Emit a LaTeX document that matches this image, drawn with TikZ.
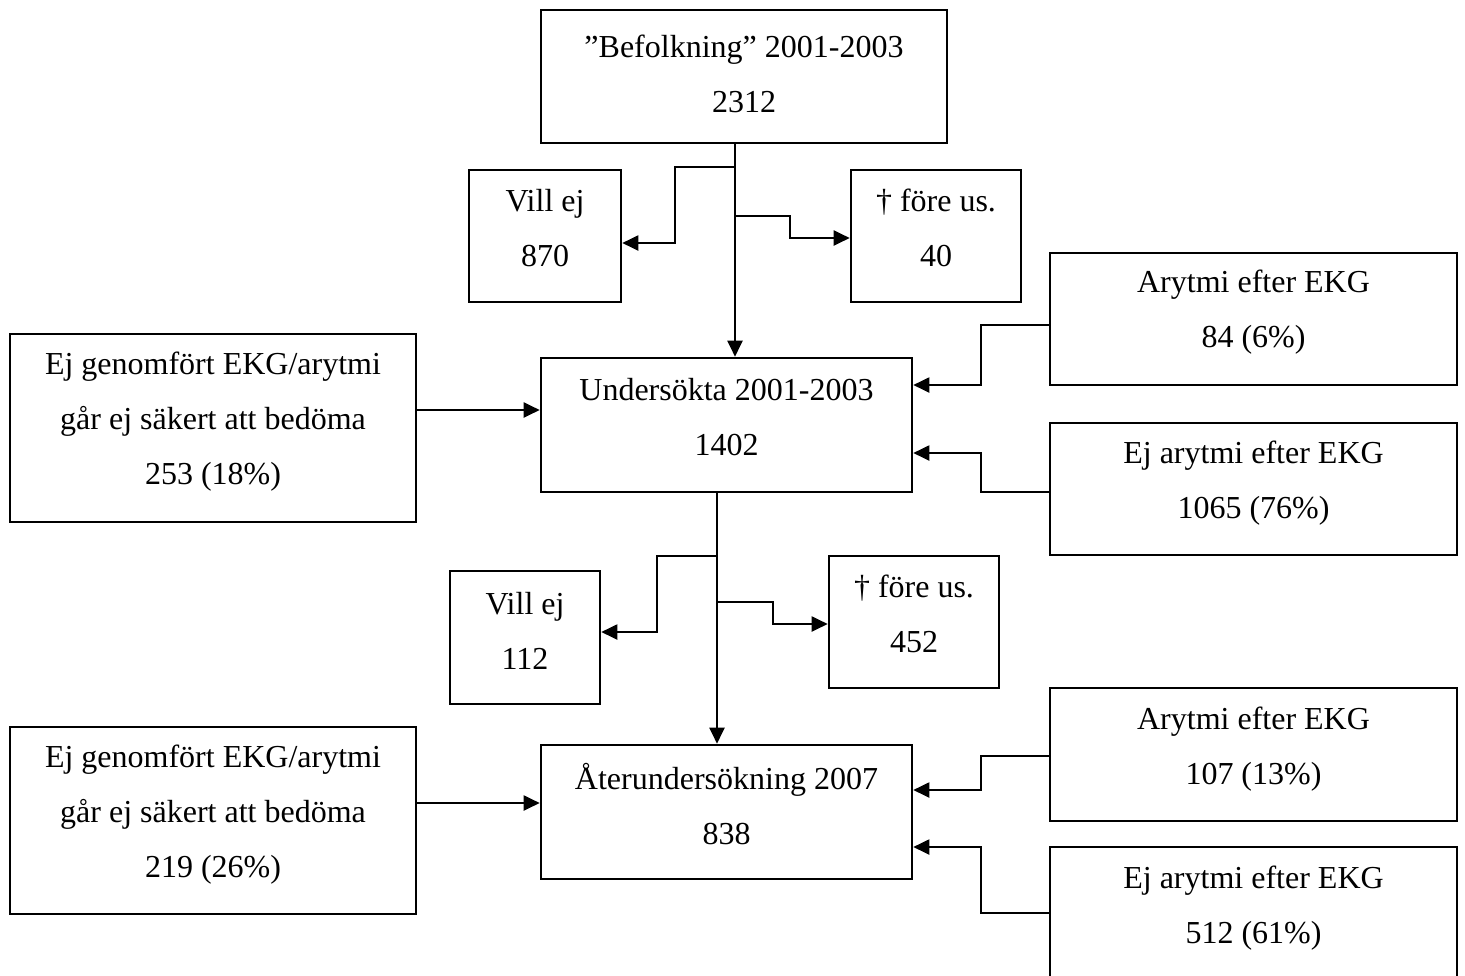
\documentclass[tikz,border=0pt]{standalone}
\usepackage{fontspec}
\setmainfont{Liberation Serif}
\usetikzlibrary{arrows.meta,calc}
\begin{document}
\begin{tikzpicture}[x=1pt,y=-1pt,
  boxnode/.style={draw=black, line width=2.6pt, inner sep=0pt},
  txt/.style={align=center, font=\fontsize{32}{55}\selectfont, inner sep=0pt},
  conn/.style={line width=2pt},
  arr/.style={line width=2pt, -{Triangle[length=16pt,width=15pt]}}]
\useasboundingbox (0,0) rectangle (1465,975);
\clip (0,0) rectangle (1465,975);

% boxes
\node[boxnode, minimum width=406pt, minimum height=133pt] (top) at (744,76.5) {};
\node[txt] (topT) at (744,73.5) {”Befolkning” 2001-2003\\2312};

\node[boxnode, minimum width=152pt, minimum height=132pt] (villej1) at (545,236) {};
\node[txt] (villej1T) at (545,228) {Vill ej\\870};

\node[boxnode, minimum width=170pt, minimum height=132pt] (dead1) at (936,236) {};
\node[txt] (dead1T) at (936,228) {† före us.\\40};

\node[boxnode, minimum width=371pt, minimum height=134pt] (und) at (726.5,425) {};
\node[txt] (undT) at (726.5,417.5) {Undersökta 2001-2003\\1402};

\node[boxnode, minimum width=406pt, minimum height=188pt] (left1) at (213,428) {};
\node[txt] (left1T) at (213,422) {Ej genomfört EKG/arytmi\\går ej säkert att bedöma\\253 (18\%)};

\node[boxnode, minimum width=407pt, minimum height=132pt] (ary1) at (1253.5,319) {};
\node[txt] (ary1T) at (1253.5,312) {Arytmi efter EKG\\84 (6\%)};

\node[boxnode, minimum width=407pt, minimum height=132pt] (eja1) at (1253.5,489) {};
\node[txt] (eja1T) at (1253.5,483) {Ej arytmi efter EKG\\1065 (76\%)};

\node[boxnode, minimum width=150pt, minimum height=133pt] (villej2) at (525,637.5) {};
\node[txt] (villej2T) at (525,631) {Vill ej\\112};

\node[boxnode, minimum width=170pt, minimum height=132pt] (dead2) at (914,622) {};
\node[txt] (dead2T) at (914,614) {† före us.\\452};

\node[boxnode, minimum width=371pt, minimum height=134pt] (ater) at (726.5,812) {};
\node[txt] (aterT) at (726.5,804) {Återundersökning 2007\\838};

\node[boxnode, minimum width=406pt, minimum height=187pt] (left2) at (213,820.5) {};
\node[txt] (left2T) at (213,815) {Ej genomfört EKG/arytmi\\går ej säkert att bedöma\\219 (26\%)};

\node[boxnode, minimum width=407pt, minimum height=133pt] (ary2) at (1253.5,754.5) {};
\node[txt] (ary2T) at (1253.5,749) {Arytmi efter EKG\\107 (13\%)};

\node[boxnode, minimum width=407pt, minimum height=132pt] (eja2) at (1253.5,913) {};
\node[txt] (eja2T) at (1253.5,908) {Ej arytmi efter EKG\\512 (61\%)};

% first stage
\coordinate (j1) at (735,167);
\coordinate (k1) at (675,243);
\coordinate (j2) at (735,216);
\coordinate (k2) at (790,238);
\draw[arr] (top.south -| j1) -- (und.north -| j1);
\draw[arr] (j1) -| (k1) -- (villej1.east |- k1);
\draw[arr] (j2) -| (k2) -- (dead1.west |- k2);

% second stage
\coordinate (j3) at (717,556);
\coordinate (k3) at (657,632);
\coordinate (j4) at (717,602);
\coordinate (k4) at (773,624);
\draw[arr] (und.south -| j3) -- (ater.north -| j3);
\draw[arr] (j3) -| (k3) -- (villej2.east |- k3);
\draw[arr] (j4) -| (k4) -- (dead2.west |- k4);

% left inputs
\coordinate (a1) at ([yshift=18pt]left1.east);
\draw[arr] (a1) -- (a1 -| und.west);
\coordinate (a2) at ([yshift=17.5pt]left2.east);
\draw[arr] (a2) -- (a2 -| ater.west);

% right inputs
\coordinate (r1) at ([yshift=-6pt]ary1.west);
\coordinate (m1) at (981,385);
\draw[arr] (r1) -| (m1) -- (und.east |- m1);
\coordinate (r2) at ([yshift=-3pt]eja1.west);
\coordinate (m2) at (981,453);
\draw[arr] (r2) -| (m2) -- (und.east |- m2);
\coordinate (r3) at ([yshift=-1.5pt]ary2.west);
\coordinate (m3) at (981,790);
\draw[arr] (r3) -| (m3) -- (ater.east |- m3);
\coordinate (r4) at (eja2.west);
\coordinate (m4) at (981,847);
\draw[arr] (r4) -| (m4) -- (ater.east |- m4);
\end{tikzpicture}
\end{document}
